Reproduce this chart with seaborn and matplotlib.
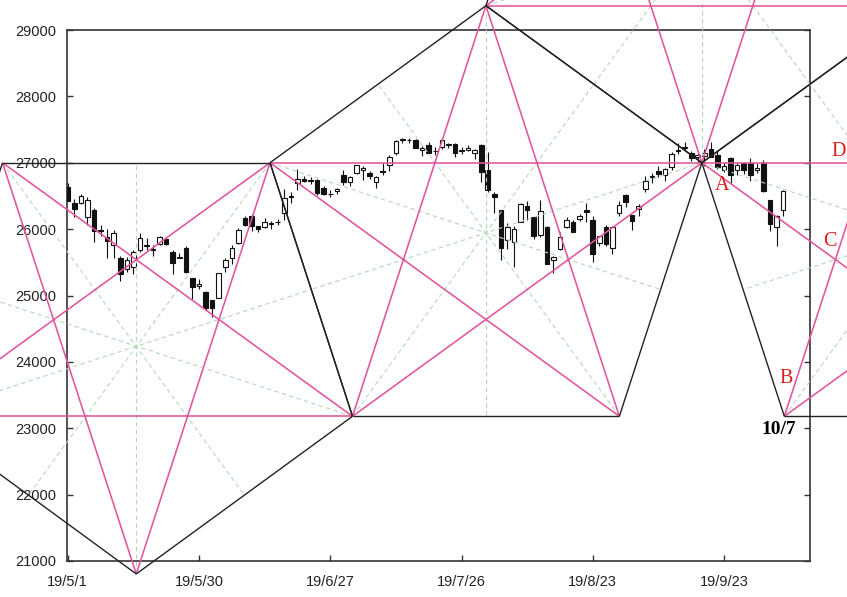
import numpy as np
import pandas as pd
import matplotlib
matplotlib.use("Agg")
import matplotlib.pyplot as plt
import seaborn as sns

# daily candles, one slot per trading day (2019)
dates = ["5/1", "5/2", "5/3", "5/6", "5/7", "5/8", "5/9", "5/10", "5/13", "5/14",
         "5/15", "5/16", "5/17", "5/20", "5/21", "5/22", "5/23", "5/24", "5/28", "5/29",
         "5/30", "5/31", "6/3", "6/4", "6/5", "6/6", "6/7", "6/10", "6/11", "6/12",
         "6/13", "6/14", "6/17", "6/18", "6/19", "6/20", "6/21", "6/24", "6/25", "6/26",
         "6/27", "6/28", "7/1", "7/2", "7/3", "7/5", "7/8", "7/9", "7/10", "7/11",
         "7/12", "7/15", "7/16", "7/17", "7/18", "7/19", "7/22", "7/23", "7/24", "7/25",
         "7/26", "7/29", "7/30", "7/31", "8/1", "8/2", "8/5", "8/6", "8/7", "8/8",
         "8/9", "8/12", "8/13", "8/14", "8/15", "8/16", "8/19", "8/20", "8/21", "8/22",
         "8/23", "8/26", "8/27", "8/28", "8/29", "8/30", "9/3", "9/4", "9/5", "9/6",
         "9/9", "9/10", "9/11", "9/12", "9/13", "9/16", "9/17", "9/18", "9/19", "9/20",
         "9/23", "9/24", "9/25", "9/26", "9/27", "9/30", "10/1", "10/2", "10/3", "10/4"]

opens = [26639, 26400, 26400, 26180, 26290, 25990, 25880, 25760, 25560, 25400,
         25430, 25690, 25750, 25700, 25780, 25850, 25660, 25570, 25710, 25260,
         25150, 25050, 24930, 24960, 25430, 25560, 25790, 26170, 26200, 26050,
         26030, 26080, 26100, 26250, 26480, 26700, 26760, 26730, 26740, 26615,
         26530, 26580, 26815, 26715, 26840, 26890, 26850, 26715, 26880, 26966,
         27142, 27340, 27350, 27343, 27192, 27267, 27170, 27242, 27290, 27282,
         27180, 27190, 27150, 27267, 26890, 26530, 26288, 25840, 25810, 26112,
         26348, 26188, 25911, 26037, 25535, 25695, 26027, 26112, 26147, 26288,
         26137, 25786, 26037, 25710, 26237, 26514, 26212, 26303, 26599, 26780,
         26880, 26815, 26941, 27180, 27230, 27151, 27080, 27100, 27202, 27116,
         26890, 27066, 26890, 26991, 27001, 26890, 26991, 26438, 26037, 26288]

highs = [26696, 26450, 26530, 26480, 26320, 26060, 26000, 25990, 25590, 25580,
         25690, 25940, 25870, 25760, 25900, 25870, 25690, 25640, 25750, 25260,
         25250, 25070, 24930, 25340, 25560, 25760, 26020, 26200, 26230, 26050,
         26170, 26120, 26160, 26600, 26560, 26907, 26800, 26780, 26750, 26650,
         26590, 26620, 26890, 26800, 26970, 26950, 26880, 26800, 26990, 27120,
         27350, 27380, 27380, 27360, 27250, 27320, 27230, 27370, 27300, 27300,
         27230, 27270, 27200, 27290, 27167, 26560, 26290, 26090, 26040, 26400,
         26420, 26190, 26439, 26040, 25600, 25950, 26180, 26140, 26230, 26400,
         26200, 25900, 26060, 26050, 26430, 26530, 26212, 26380, 26800, 26840,
         26950, 26920, 27160, 27300, 27306, 27170, 27140, 27200, 27306, 27170,
         27000, 27080, 27000, 27010, 27070, 27000, 27040, 26438, 26212, 26590]

lows = [26430, 26190, 26385, 26060, 25800, 25900, 25560, 25560, 25222, 25350,
        25330, 25660, 25680, 25600, 25760, 25760, 25330, 25560, 25340, 24940,
        25100, 24780, 24680, 24960, 25350, 25470, 25780, 26050, 25970, 25950,
        26020, 26000, 26060, 26130, 26400, 26590, 26710, 26680, 26520, 26510,
        26480, 26530, 26660, 26650, 26830, 26740, 26760, 26620, 26810, 26880,
        27120, 27300, 27300, 27220, 27100, 27140, 27110, 27200, 27220, 27080,
        27130, 27170, 27060, 26715, 26565, 26250, 25535, 25700, 25430, 26100,
        26140, 25850, 25880, 25470, 25339, 25690, 26020, 25950, 26120, 26100,
        25510, 25750, 25740, 25620, 26200, 26340, 25980, 26200, 26560, 26700,
        26790, 26720, 26890, 27130, 27190, 27030, 27000, 26950, 27080, 26900,
        26860, 26700, 26810, 26830, 26730, 26850, 26560, 25970, 25743, 26200]

closes = [26430, 26307, 26505, 26438, 25965, 25968, 25828, 25942, 25324, 25532,
          25648, 25862, 25764, 25679, 25877, 25776, 25490, 25586, 25347, 25126,
          25169, 24815, 24819, 25332, 25539, 25720, 25984, 26062, 26048, 26004,
          26106, 26090, 26112, 26465, 26504, 26753, 26719, 26727, 26548, 26536,
          26526, 26600, 26717, 26787, 26966, 26922, 26806, 26783, 26860, 27088,
          27332, 27359, 27336, 27220, 27223, 27154, 27172, 27349, 27270, 27140,
          27192, 27221, 27198, 26864, 26583, 26485, 25718, 26030, 26008, 26378,
          26287, 25897, 26280, 25479, 25579, 25886, 26136, 25962, 26202, 26252,
          25629, 25898, 25778, 26036, 26362, 26403, 26118, 26355, 26728, 26797,
          26835, 26909, 27137, 27182, 27220, 27076, 27111, 27147, 27094, 26935,
          26950, 26808, 26970, 26891, 26820, 26917, 26573, 26078, 26201, 26573]

tick_dates = ["5/1", "5/30", "6/27", "7/26", "8/23", "9/23"]
tick_labels = ["19/5/1", "19/5/30", "19/6/27", "19/7/26", "19/8/23", "19/9/23"]

# pentagram construction: vertices as (trading-day slot, price)
vertex_names = ["V0", "V1", "V2", "V3", "V4", "V5", "V6", "V7",
                "V8", "V9", "V10", "V11", "T4L", "T4R"]
vertex_slot = [-22.41, -9.94, 10.44, 30.82, 43.39, 63.72, 84.05, 96.62,
               109.19, 129.57, 149.95, 162.52, 76.24, 117.00]
vertex_price = [23180, 27000, 20805, 27000, 23180, 29366, 23180, 27000,
                23180, 29366, 23180, 27000, 33200, 33200]
pentagons = [["V1", "V3", "V4", "V2", "V0"],
             ["V3", "V5", "V7", "V6", "V4"],
             ["V7", "V9", "V11", "V10", "V8"],
             ["T4L", "T4R", "V9", "V7", "V5"]]

marks = ["A", "B", "C", "D"]
mark_slot = [99.7, 109.45, 116.2, 117.4]
mark_price = [26650, 23742, 25821, 27177]
date_note = "10/7"
date_note_pos = (108.4, 22988)

PINK = "#e2559c"
DARK = "#222222"
GREEN = "#b3d9bd"
RED = "#e01a1a"

sns.set_theme(style="white")
plt.rcParams["font.family"] = ["Liberation Sans", "DejaVu Sans"]

df = pd.DataFrame({"date": dates, "open": opens, "high": highs,
                   "low": lows, "close": closes})
df["x"] = np.arange(len(df))
df["up"] = df["close"] >= df["open"]
df["bottom"] = df[["open", "close"]].min(axis=1)
df["height"] = (df["close"] - df["open"]).abs().clip(lower=8)

fig = plt.figure(figsize=(8.47, 5.97), dpi=100)
ax = fig.add_axes([67 / 847, 36 / 597, 743 / 847, 531 / 597])

ax.vlines(df["x"], df["low"], df["high"], color="#111111", lw=0.8, zorder=2)
up = df[df["up"]]
dn = df[~df["up"]]
ax.bar(up["x"], up["height"], bottom=up["bottom"], width=0.7, color="white",
       edgecolor="#111111", linewidth=0.8, zorder=3)
ax.bar(dn["x"], dn["height"], bottom=dn["bottom"], width=0.7, color="#111111",
       edgecolor="#111111", linewidth=0.8, zorder=3)

vx = dict(zip(vertex_names, vertex_slot))
vy = dict(zip(vertex_names, vertex_price))


def seg(a, b, **kw):
    ax.plot([a[0], b[0]], [a[1], b[1]], clip_on=False, solid_capstyle="butt", **kw)


for pent in pentagons:
    pts = [(vx[n], vy[n]) for n in pent]
    for i in range(5):
        # symmetry axis: vertex -> midpoint of opposite side
        p, q = pts[(i + 2) % 5], pts[(i + 3) % 5]
        mid = ((p[0] + q[0]) / 2, (p[1] + q[1]) / 2)
        seg(pts[i], mid, color=GREEN, lw=0.8, dashes=(4, 3), zorder=4)
for pent in pentagons:
    pts = [(vx[n], vy[n]) for n in pent]
    for i in range(5):
        seg(pts[i], pts[(i + 2) % 5], color=PINK, lw=1.15, zorder=5)
for pent in pentagons:
    pts = [(vx[n], vy[n]) for n in pent]
    for i in range(5):
        seg(pts[i], pts[(i + 1) % 5], color=DARK, lw=1.0, zorder=6)

for m, sx, sp in zip(marks, mark_slot, mark_price):
    ax.text(sx, sp, m, color=RED, fontsize=14.5, ha="center", va="center",
            family=["Liberation Serif", "DejaVu Serif"], clip_on=False, zorder=7)
ax.text(date_note_pos[0], date_note_pos[1], date_note, color="black", fontsize=14,
        fontweight="bold", ha="center", va="center",
        family=["Liberation Serif", "DejaVu Serif"], clip_on=False, zorder=7)

ax.set_xlim(-0.114, 113.1)
ax.set_ylim(21000, 29000)
ax.set_yticks(range(21000, 29001, 1000))
ax.set_xticks([dates.index(d) for d in tick_dates])
ax.set_xticklabels(tick_labels)
ax.tick_params(axis="both", direction="in", length=4, width=1.0, colors="#333333",
               labelcolor="#222222", labelsize=10.5)
ax.tick_params(axis="y", left=True, right=True, labelright=False, pad=8)
ax.tick_params(axis="x", bottom=True, pad=10)
for sp in ax.spines.values():
    sp.set_color("#333333")
    sp.set_linewidth(1.2)
ax.set_xlabel("")
ax.set_ylabel("")

fig.savefig("out.png", dpi=100)
